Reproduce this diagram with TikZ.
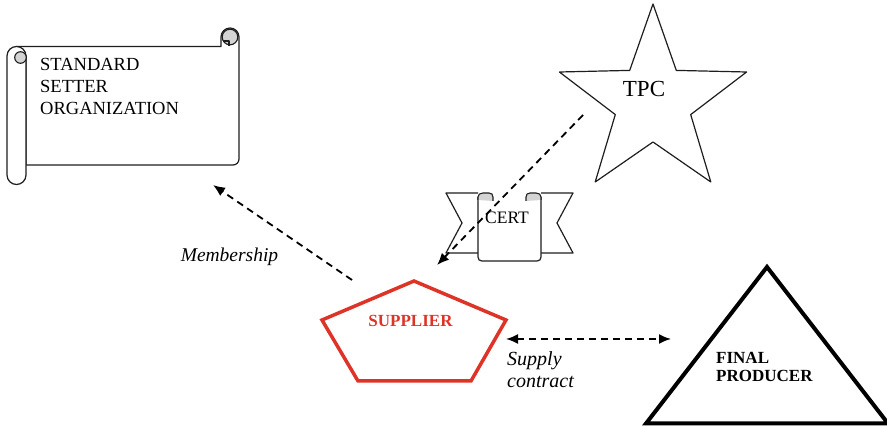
\documentclass[tikz,border=0pt]{standalone}
\usepackage{fontspec}
\setmainfont{Liberation Serif}
\usetikzlibrary{arrows.meta}
\definecolor{supred}{RGB}{222,52,40}
\definecolor{curlgray}{RGB}{212,212,212}
\definecolor{inkgray}{RGB}{30,30,30}
\begin{document}
\begin{tikzpicture}[x=1pt,y=-1pt,
  outline/.style={draw=inkgray, line width=1.2pt, line join=round, fill=white},
  thinline/.style={draw=inkgray, line width=1.2pt, line join=round},
  curl/.style={draw=inkgray, line width=1.1pt, fill=curlgray},
  conn/.style={line width=1.8pt, dash pattern=on 7pt off 5pt},
  tip/.style={-{Latex[length=12pt,width=10pt]}},
  bothtips/.style={{Latex[length=12pt,width=10pt]}-{Latex[length=12pt,width=10pt]}},
  lbl/.style={inner sep=0pt, font=\fontsize{20}{22}\selectfont\itshape},
]
\useasboundingbox (0,0) rectangle (887,427);

% ---------------- Standard setter scroll ----------------
\path[outline] (16.5,46.5) -- (221,46.5) -- (221,37)
  .. controls (221,32.03) and (225.03,28) .. (230,28)
  .. controls (234.97,28) and (239,32.03) .. (239,37)
  -- (239,159) .. controls (239,162.3) and (236.3,165) .. (233,165)
  -- (26,165) -- (26,56) -- cycle;
\path[curl] (230,37) circle (7.8);
\draw[thinline] (223,41) -- (229,41) -- (229,46.5);
\path[outline] (26,165) -- (26,175)
  .. controls (26,180.25) and (21.75,184.5) .. (16.5,184.5)
  .. controls (11.25,184.5) and (7,180.25) .. (7,175)
  -- (7,56)
  .. controls (7,50.75) and (11.25,46.5) .. (16.5,46.5)
  .. controls (21.75,46.5) and (26,50.75) .. (26,56) -- cycle;
\path[curl] (20.5,57.5) circle (5.8);
\node[anchor=north west, inner sep=0pt, align=left,
      font=\fontsize{18.5}{22}\selectfont] (sso) at (40,58)
  {STANDARD\\SETTER\\ORGANIZATION};

% ---------------- TPC star ----------------
\path[outline] (653,4) -- (676.3,70.4) -- (746.6,72) -- (690.7,114.6)
  -- (710.8,182) -- (653,142) -- (595.2,182) -- (615.3,114.6)
  -- (559.4,72) -- (629.7,70.4) -- cycle;
\node[inner sep=0pt, font=\fontsize{23}{26}\selectfont] (tpc) at (644,89.5) {TPC};

% ---------------- CERT ribbon ----------------
\path[outline] (478,193) -- (446,193) -- (462,223) -- (446,253) -- (478,253);
\path[outline] (541,193) -- (573,193) -- (557,223) -- (573,253) -- (541,253);
\path[outline] (478,197) -- (478,257) .. controls (478,259.5) and (479.5,261) .. (482,261)
  -- (537,261) .. controls (539.5,261) and (541,259.5) .. (541,257) -- (541,197);
\path[curl] (478,200) -- (478,197) .. controls (478,194.5) and (480,193) .. (483,193)
  -- (489,193) .. controls (491.5,193) and (493,194.5) .. (493,197) -- (493,201);
\path[curl] (526,201) -- (526,197) .. controls (526,194.5) and (527.5,193) .. (530,193)
  -- (536,193) .. controls (539,193) and (541,194.5) .. (541,197) -- (541,200);
\node[inner sep=0pt, font=\fontsize{17.5}{20}\selectfont] (cert) at (507,217.5) {CERT};

% ---------------- Supplier pentagon ----------------
\draw[supred, line width=3.5pt, line join=miter]
  (414,281) -- (506,320) -- (471,381) -- (358,381) -- (322,320) -- cycle;
\node[inner sep=0pt, text=supred, font=\fontsize{17}{20}\selectfont\bfseries]
  (supplier) at (410.5,321) {SUPPLIER};

% ---------------- Final producer triangle ----------------
\draw[line width=4pt, line join=miter] (767,267) -- (888,423.5) -- (646,423.5) -- cycle;
\node[anchor=north west, inner sep=0pt, align=left,
      font=\fontsize{17}{18.5}\selectfont\bfseries] (final) at (716,352)
  {FINAL\\PRODUCER};

% ---------------- Connectors ----------------
\coordinate (memS) at (352,280);
\coordinate (memE) at (213,185);
\coordinate (tpcS) at (583,115);
\coordinate (tpcE) at (437,265);
\coordinate (supS) at (506,339);
\coordinate (supE) at (671,339);

\draw[conn, tip] (memS) -- (memE);
\draw[conn, tip] (tpcS) -- (tpcE);
\draw[conn, bothtips] (supS) -- (supE);

\node[lbl, anchor=base, font=\fontsize{19.5}{22}\selectfont\itshape] (memlbl) at (229.5,262) {Membership};
\node[lbl, anchor=north west, align=left] (suplbl) at (507,351) {Supply\\contract};
\end{tikzpicture}
\end{document}
